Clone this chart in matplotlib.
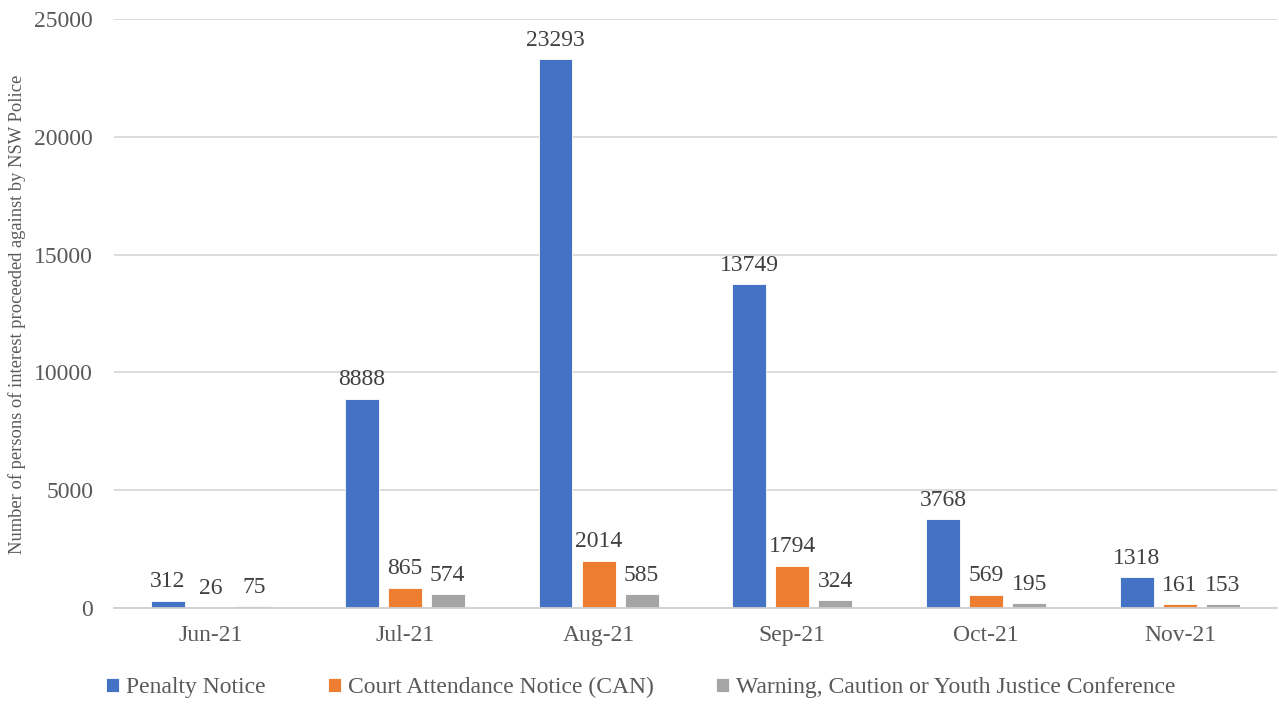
import numpy as np
import matplotlib.pyplot as plt

# Persons of interest proceeded against, by month and outcome
months = ["Jun-21", "Jul-21", "Aug-21", "Sep-21", "Oct-21", "Nov-21"]
penalty = [312, 8888, 23293, 13749, 3768, 1318]
court = [26, 865, 2014, 1794, 569, 161]
warning = [75, 574, 585, 324, 195, 153]

series = [
    ("Penalty Notice", penalty, "#4472C4"),
    ("Court Attendance Notice (CAN)", court, "#ED7D31"),
    ("Warning, Caution or Youth Justice Conference", warning, "#A5A5A5"),
]

TEXT = "#595959"
plt.rcParams["font.family"] = ["Liberation Serif", "DejaVu Serif"]

fig = plt.figure(figsize=(12.79, 7.04), dpi=100)
ax = fig.add_axes([0.0891, 0.1364, 0.9093, 0.8366])

x = np.arange(len(months))
width = 0.175
offsets = [-0.222, 0.0, 0.222]

for (label, vals, color), off in zip(series, offsets):
    bars = ax.bar(x + off, vals, width, color=color, label=label,
                  edgecolor="white", linewidth=0.6, zorder=3)
    for b, v in zip(bars, vals):
        ax.annotate(str(v), (b.get_x() + b.get_width() / 2, v),
                    xytext=(0, 6), textcoords="offset points",
                    ha="center", va="bottom", fontsize=17, color="#404040")

ax.set_xlim(-0.5, len(months) - 0.5)
ax.set_ylim(0, 25000)
ax.set_yticks(range(0, 25001, 5000))
ax.set_xticks(x)
ax.set_xticklabels(months)
ax.tick_params(axis="both", length=0, labelsize=17, colors=TEXT)
ax.tick_params(axis="y", pad=15)
ax.tick_params(axis="x", pad=12)

ax.grid(axis="y", color="#D9D9D9", linewidth=1.3, zorder=0)
for s in ["top", "right", "left"]:
    ax.spines[s].set_visible(False)
ax.spines["bottom"].set_color("#D0D0D0")
ax.spines["bottom"].set_linewidth(1.3)
ax.spines["bottom"].set_zorder(4)

fig.text(0.0133, 0.554, "Number of persons of interest proceeded against by NSW Police",
         rotation=90, ha="center", va="center", fontsize=13.3, color=TEXT)

fig.legend(loc="center", bbox_to_anchor=(0.501, 0.023), ncol=3, frameon=False,
           fontsize=17, labelcolor=TEXT, handlelength=0.55, handleheight=0.55,
           handletextpad=0.3, columnspacing=2.65)

fig.savefig("out.png", dpi=100)
